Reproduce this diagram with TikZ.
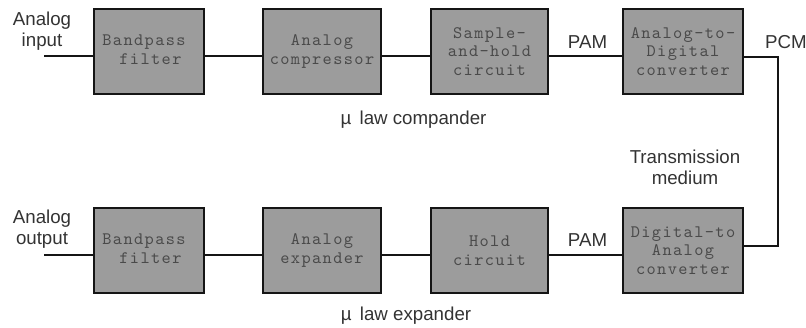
\documentclass[tikz,border=0pt]{standalone}
\usepackage{fontspec}
\setmainfont{Liberation Sans}
\newfontfamily\boxfont{lmmono10-regular.otf}[LetterSpace=8]
\definecolor{boxgray}{HTML}{9C9C9C}
\definecolor{boxtext}{HTML}{4A4A4A}
\definecolor{labeltext}{HTML}{333333}
\definecolor{wirecol}{HTML}{151515}
\begin{document}
\begin{tikzpicture}[x=1pt,y=-1pt,
  blk/.style={draw=wirecol, line width=1.8pt, fill=boxgray, minimum width=#1,
    minimum height=85pt, inner sep=0pt, text=boxtext, align=center,
    font=\boxfont\fontsize{17.5}{18.5}\selectfont},
  lbl/.style={inner sep=0pt, text=labeltext, align=center,
    font=\fontsize{18.7}{21.5}\selectfont},
  wire/.style={line width=1.5pt, draw=wirecol}]
\useasboundingbox (0,0) rectangle (806,327);
% top row
\node[blk=110pt] (b1) at (149,51.5) {\begin{tabular}{@{}l@{}}Bandpass\\\hspace*{17pt}filter\end{tabular}\hspace*{10pt}};
\node[blk=118pt] (b2) at (322,51.5) {Analog\\compressor};
\node[blk=117pt] (b3) at (489.5,51.5) {Sample-\\and-hold\\circuit};
\node[blk=120pt] (b4) at (683,51.5) {Analog-to-\\Digital\\converter};
% bottom row
\node[blk=110pt] (d1) at (149,250.5) {\begin{tabular}{@{}l@{}}Bandpass\\\hspace*{17pt}filter\end{tabular}\hspace*{10pt}};
\node[blk=118pt] (d2) at (322,250.5) {Analog\\expander};
\node[blk=117pt] (d3) at (489.5,250.5) {Hold\\circuit};
\node[blk=120pt] (d4) at (683,250.5) {Digital-to\\Analog\\converter};
% wires
\coordinate (inA) at (44,56);
\coordinate (outA) at (44,255);
\coordinate (rtop) at (778,57);
\coordinate (rbot) at (778,246);
\draw[wire] (inA) -- (inA -| b1.west);
\draw[wire] (b1.east |- inA) -- (b2.west |- inA);
\draw[wire] (b2.east |- inA) -- (b3.west |- inA);
\draw[wire] (b3.east |- inA) -- (b4.west |- inA);
\draw[wire] (b4.east |- rtop) -- (rtop) -- (rbot) -- (d4.east |- rbot);
\draw[wire] (outA) -- (outA -| d1.west);
\draw[wire] (d1.east |- outA) -- (d2.west |- outA);
\draw[wire] (d2.east |- outA) -- (d3.west |- outA);
\draw[wire] (d3.east |- outA) -- (d4.west |- outA);
% labels
\node[lbl] (lin) at (42,31) {Analog\\input};
\node[lbl] (lout) at (42,229) {Analog\\output};
\node[lbl] (pam1) at (587.5,42) {PAM};
\node[lbl] (pam2) at (587.5,240) {PAM};
\node[lbl] (pcm) at (786,42) {PCM};
\node[lbl] (tm) at (685,167.5) {Transmission\\medium};
\node[lbl] (comp) at (413.5,120) {µ\, law compander};
\node[lbl] (exp) at (406,316) {µ\, law expander};
\end{tikzpicture}
\end{document}
